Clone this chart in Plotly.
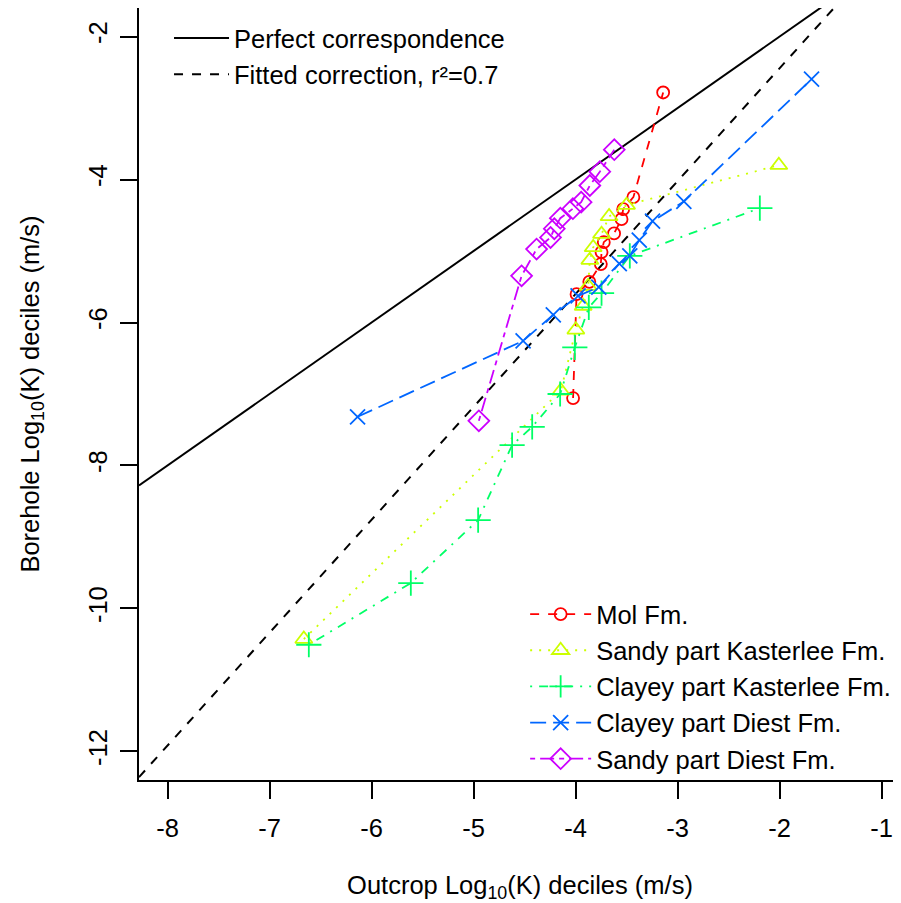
import plotly.graph_objects as go

# ---------------- data ----------------
x_ticks = [-8, -7, -6, -5, -4, -3, -2, -1]
y_ticks = [-12, -10, -8, -6, -4, -2]

mol_x = [-4.024, -3.990, -3.865, -3.752, -3.745, -3.723, -3.622, -3.549, -3.533, -3.433, -3.141]
mol_y = [-7.057, -5.603, -5.431, -5.183, -5.015, -4.876, -4.754, -4.554, -4.414, -4.246, -2.782]

sk_x = [-6.664, -4.144, -3.997, -3.925, -3.876, -3.860, -3.827, -3.745, -3.671, -3.500, -2.007]
sk_y = [-10.428, -6.955, -6.102, -5.771, -5.491, -5.127, -4.950, -4.764, -4.516, -4.358, -3.799]

ck_x = [-6.615, -5.615, -4.955, -4.622, -4.425, -4.151, -4.007, -3.870, -3.745, -3.468, -2.193]
ck_y = [-10.508, -9.645, -8.764, -7.715, -7.459, -7.000, -6.348, -5.789, -5.589, -5.067, -4.400]

cd_x = [-6.137, -4.514, -4.218, -3.975, -3.772, -3.571, -3.468, -3.375, -3.245, -2.938, -1.686]
cd_y = [-7.319, -6.256, -5.892, -5.627, -5.505, -5.176, -5.067, -4.848, -4.582, -4.306, -2.596]

sd_x = [-4.948, -4.529, -4.382, -4.245, -4.208, -4.149, -4.026, -3.945, -3.860, -3.762, -3.620]
sd_y = [-7.375, -5.347, -4.973, -4.810, -4.688, -4.540, -4.407, -4.316, -4.083, -3.890, -3.582]

fit_slope = 1.579
fit_intercept = 0.714

series_names = ["Mol Fm.", "Sandy part Kasterlee Fm.", "Clayey part Kasterlee Fm.",
                "Clayey part Diest Fm.", "Sandy part Diest Fm."]

# ---------------- styling ----------------
x_range = [-8.28, -0.809]
y_range = [-12.4, -1.6]
FONT = "Liberation Sans, Arial, sans-serif"
FS = 25.5

fig = go.Figure()

line_x = list(x_range)
fig.add_trace(go.Scatter(
    x=line_x, y=line_x, mode="lines", name="Perfect correspondence",
    line=dict(color="black", width=2), legend="legend"))
fig.add_trace(go.Scatter(
    x=line_x, y=[fit_slope * v + fit_intercept for v in line_x], mode="lines",
    name="Fitted correction, r\u00b2=0.7",
    line=dict(color="black", width=2, dash="9px,9px"), legend="legend"))

styles = [
    (mol_x, mol_y, "#FF0000", "9px,9px", "circle-open", 12),
    (sk_x, sk_y, "#CCFF00", "2px,7px", "triangle-up-open", 15),
    (ck_x, ck_y, "#00FF66", "2px,7px,9px,7px", "cross-thin-open", 18),
    (cd_x, cd_y, "#0066FF", "16px,7px", "x-thin-open", 15),
    (sd_x, sd_y, "#CC00FF", "5px,5px,14px,5px", "diamond-open", 16),
]
for name, (xs, ys, col, dash, sym, sz) in zip(series_names, styles):
    fig.add_trace(go.Scatter(
        x=xs, y=ys, mode="lines+markers", name=name,
        line=dict(color=col, width=1.8, dash=dash),
        marker=dict(symbol=sym, size=sz, color=col, line=dict(color=col, width=1.8)),
        legend="legend2"))

axis_common = dict(
    showgrid=False, zeroline=False, showline=True, linecolor="black", linewidth=1.5,
    ticks="outside", ticklen=17, tickwidth=1.5, tickcolor="black",
    tickfont=dict(family=FONT, size=FS, color="black"),
)

fig.update_layout(
    width=900, height=895,
    margin=dict(l=131, r=7, t=0, b=123, autoexpand=False),
    paper_bgcolor="white", plot_bgcolor="white",
    font=dict(family=FONT, size=FS, color="black"),
    xaxis=dict(range=x_range, tickvals=x_ticks, ticktext=[str(v) for v in x_ticks],
               mirror=True, ticklabelstandoff=8,
               title=dict(text="Outcrop Log<sub>10</sub>(K) deciles (m/s)",
                          font=dict(family=FONT, size=FS, color="black"), standoff=43),
               **axis_common),
    yaxis=dict(range=y_range, tickvals=y_ticks, ticktext=[str(v) for v in y_ticks],
               mirror=False, tickangle=-90, ticklabelstandoff=3,
               title=dict(text="Borehole Log<sub>10</sub>(K) deciles (m/s)",
                          font=dict(family=FONT, size=FS, color="black"), standoff=37),
               **axis_common),
    legend=dict(x=0.0394, y=0.991, xanchor="left", yanchor="top", bgcolor="rgba(0,0,0,0)",
                font=dict(family=FONT, size=FS, color="black"), itemwidth=55,
                tracegroupgap=0),
    legend2=dict(xref="container", x=0.5746, y=0.2448, xanchor="left", yanchor="top",
                 bgcolor="rgba(0,0,0,0)",
                 font=dict(family=FONT, size=FS, color="black"), itemwidth=61,
                 tracegroupgap=0),
    showlegend=True,
)

fig.write_html("out.html")
